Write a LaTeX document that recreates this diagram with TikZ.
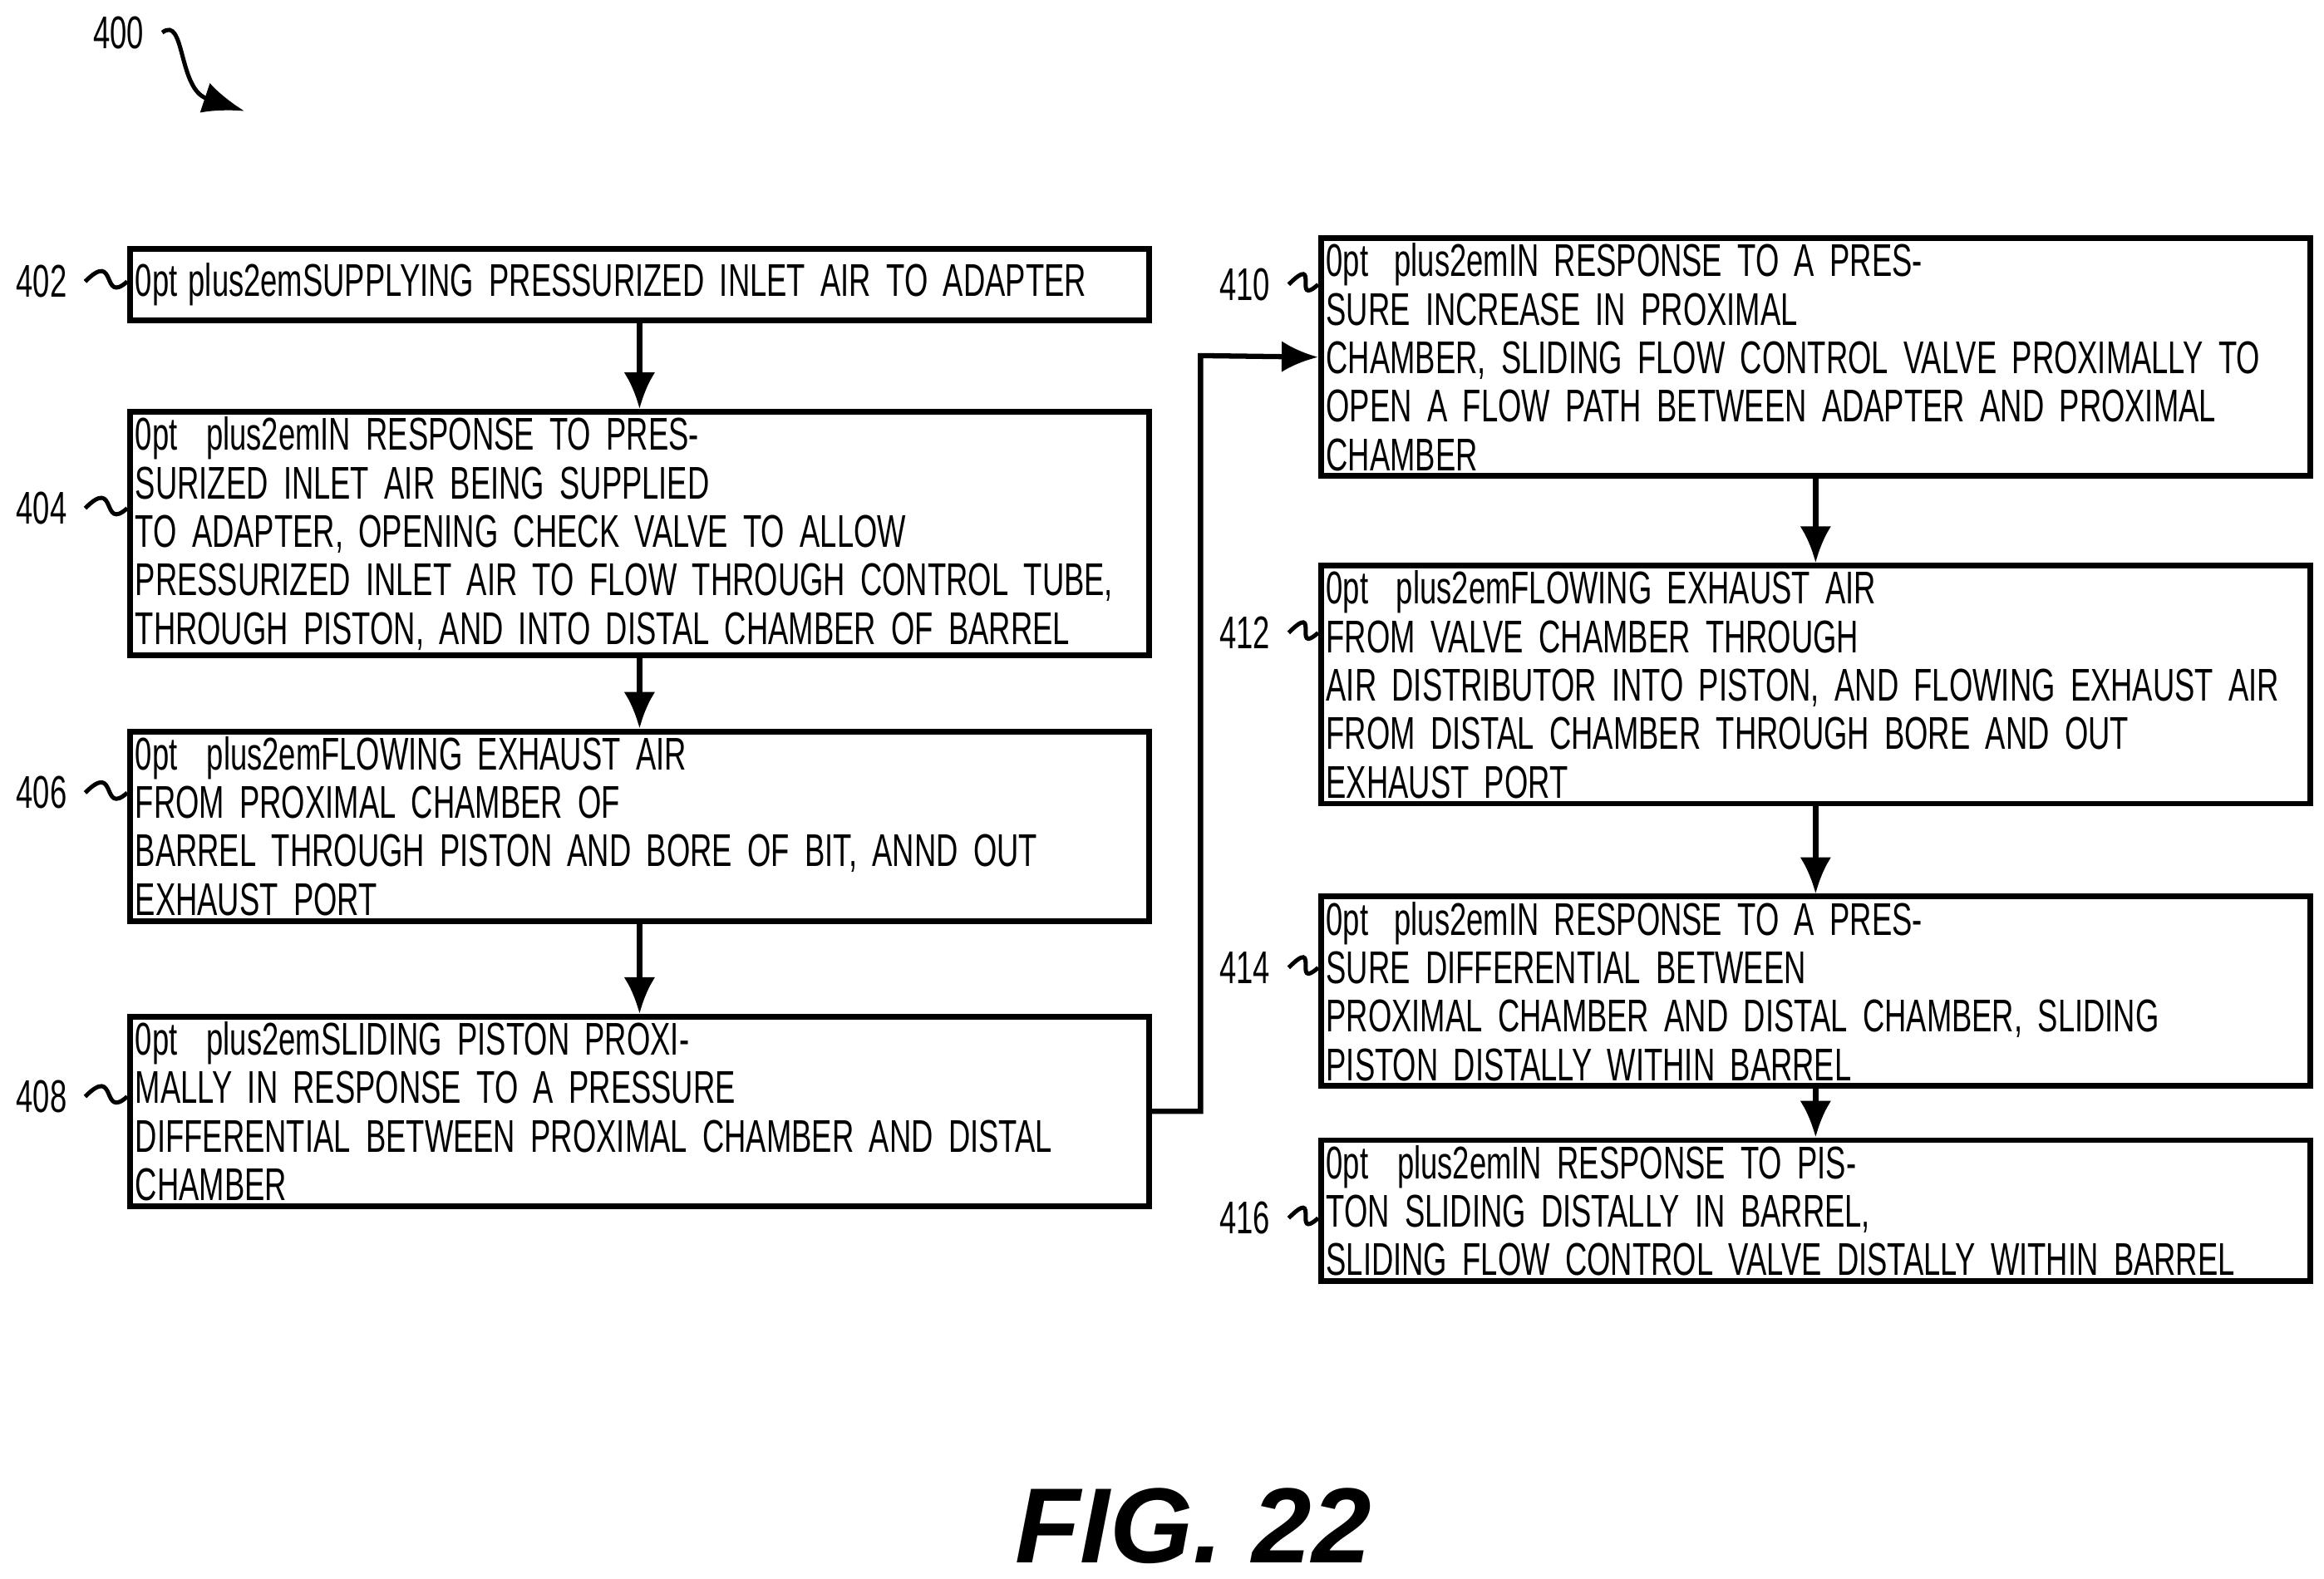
\documentclass[tikz,border=0pt]{standalone}
\usepackage{fontspec}
\setmainfont{Liberation Sans}[FakeStretch=0.66]
\newfontfamily\figfont{Liberation Sans}
\usetikzlibrary{positioning,arrows.meta}
\begin{document}
\begin{tikzpicture}[x=0.01cm,y=-0.01cm,
	box/.style={rectangle, draw, line width=1.1pt, align=center, inner sep=1pt,
		font=\fontsize{8.8}{9.3}\selectfont\hyphenpenalty=10000\spaceskip=0.18em plus 0.05em},
	wide/.style={box, minimum width=6.87cm, text width=6.8cm},
	wider/.style={box, minimum width=6.62cm, text width=6.6cm},
	tag/.style={font=\fontsize{8.8}{10}\selectfont},
	flow/.style={-{Latex[length=7pt,width=6pt]}, line width=1pt},
	wig/.style={line width=0.8pt}]
	\useasboundingbox (0,0) rectangle (1568,1065);
	\node[wide, minimum height=0.48cm] (b402) at (431.5,192) {SUPPLYING PRESSURIZED INLET AIR TO ADAPTER};
	\node[wide, minimum height=1.44cm] (b404) at (431.5,360) {IN RESPONSE TO PRESSURIZED INLET AIR BEING SUPPLIED\\ TO ADAPTER, OPENING CHECK VALVE TO ALLOW\\ PRESSURIZED INLET AIR TO FLOW THROUGH CONTROL TUBE,\\ THROUGH PISTON, AND INTO DISTAL CHAMBER OF BARREL};
	\node[wide, minimum height=1.11cm] (b406) at (431.5,557.5) {FLOWING EXHAUST AIR FROM PROXIMAL CHAMBER OF\\ BARREL THROUGH PISTON AND BORE OF BIT, ANND OUT\\ EXHAUST PORT};
	\node[wide, minimum height=1.12cm] (b408) at (431.5,750) {SLIDING PISTON PROXIMALLY IN RESPONSE TO A PRESSURE\\ DIFFERENTIAL BETWEEN PROXIMAL CHAMBER AND DISTAL\\ CHAMBER};
	\node[wider, minimum height=1.42cm] (b410) at (1225,241) {IN RESPONSE TO A PRESSURE INCREASE IN PROXIMAL\\ CHAMBER, SLIDING FLOW CONTROL VALVE PROXIMALLY TO\\ OPEN A FLOW PATH BETWEEN ADAPTER AND PROXIMAL\\ CHAMBER};
	\node[wider, minimum height=1.40cm] (b412) at (1225,462) {FLOWING EXHAUST AIR FROM VALVE CHAMBER THROUGH\\ AIR DISTRIBUTOR INTO PISTON, AND FLOWING EXHAUST AIR\\ FROM DISTAL CHAMBER THROUGH BORE AND OUT\\ EXHAUST PORT};
	\node[wider, minimum height=1.10cm] (b414) at (1225,669) {IN RESPONSE TO A PRESSURE DIFFERENTIAL BETWEEN\\ PROXIMAL CHAMBER AND DISTAL CHAMBER, SLIDING\\ PISTON DISTALLY WITHIN BARREL};
	\node[wider, minimum height=0.78cm] (b416) at (1225,817) {IN RESPONSE TO PISTON SLIDING DISTALLY IN BARREL,\\ SLIDING FLOW CONTROL VALVE DISTALLY WITHIN BARREL};
	% reference numerals
	\node[tag] (l400) at (80,22) {400};
	\node[tag] (l402) at (28,190) {402};
	\node[tag] (l404) at (28,343) {404};
	\node[tag] (l406) at (28,535) {406};
	\node[tag] (l408) at (28,740) {408};
	\node[tag] (l410) at (840,192) {410};
	\node[tag] (l412) at (840,427) {412};
	\node[tag] (l414) at (840,653) {414};
	\node[tag] (l416) at (840,822) {416};
	\coordinate (t400) at (165,75);
	\draw[wig, -{Latex[length=8pt,width=6pt]}] (l400.east) .. controls (125,10) and (120,60) .. (t400);
	\foreach \n in {402,404,406,408,410,412,414,416}
		\draw[wig] (l\n.east) .. controls +(22,-22) and +(-18,16) .. (b\n.west |- l\n.east);
	% flow
	\draw[flow] (b402) -- (b404);
	\draw[flow] (b404) -- (b406);
	\draw[flow] (b406) -- (b408);
	\draw[flow] (b408.east) -| (810,240) -- (b410.west);
	\draw[flow] (b410) -- (b412);
	\draw[flow] (b412) -- (b414);
	\draw[flow] (b414) -- (b416);
	\node[font=\figfont\fontsize{20.5}{21}\selectfont\bfseries\itshape] (fig) at (805,1030) {FIG. 22};
\end{tikzpicture}
\end{document}
